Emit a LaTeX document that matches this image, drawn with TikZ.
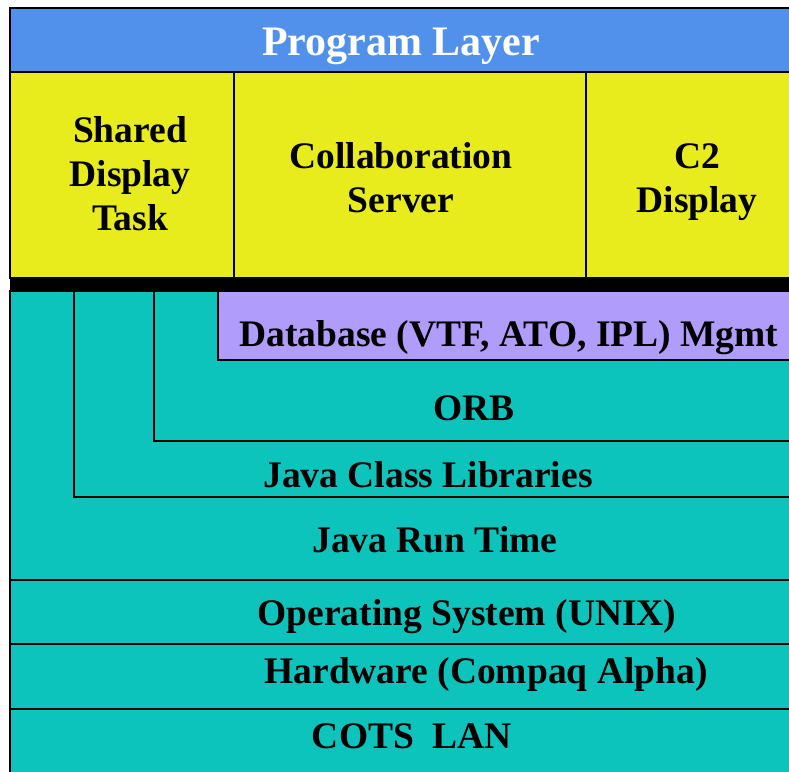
\documentclass[tikz,border=0pt]{standalone}
\usepackage{fontspec}
\setmainfont{Liberation Serif}
\definecolor{layerblue}{HTML}{5191EB}
\definecolor{appyellow}{HTML}{E8EB1C}
\definecolor{mwteal}{HTML}{0CC4BC}
\definecolor{dbpurple}{HTML}{B09CFA}
\tikzset{
  layer/.style={draw=black, line width=1.4pt},
  lbl/.style={font=\bfseries\fontsize{37.5}{44}\selectfont, align=center, inner sep=0pt},
  title/.style={font=\bfseries\fontsize{42}{48}\selectfont, text=white, inner sep=0pt}
}
\begin{document}
\begin{tikzpicture}[x=1pt,y=-1pt]
\useasboundingbox (0,0) rectangle (789,771);
% program layer banner
\path[layer, fill=layerblue] (10,8) rectangle (800,72);
% application tasks
\path[layer, fill=appyellow] (10,72) rectangle (800,278);
\draw[line width=1.2pt] (234,72) -- (234,278);
\draw[line width=1.2pt] (586,72) -- (586,278);
% separator bar
\fill[black] (10,278) rectangle (800,291);
% middleware and platform stack
\path[layer, fill=mwteal] (10,291) rectangle (800,790);
\draw[layer] (74,291) -- (74,497) -- (800,497);
\draw[layer] (154,291) -- (154,441) -- (800,441);
\path[layer, fill=dbpurple] (218,291) rectangle (800,360);
\draw[layer] (10,580) -- (800,580);
\draw[layer] (10,644) -- (800,644);
\draw[layer] (10,709) -- (800,709);
% labels
\node[title] (prog) at (401,46) {Program Layer};
\node[lbl] (sdt) at (130,174) {Shared\\Display\\Task};
\node[lbl] (collab) at (401,178) {Collaboration\\Server};
\node[lbl] (c2) at (697,182) {C2\\Display};
\node[lbl] (db) at (509,338) {Database (VTF, ATO, IPL) Mgmt};
\node[lbl] (orb) at (474,408) {ORB};
\node[lbl] (jcl) at (428,475) {Java Class Libraries};
\node[lbl] (jrt) at (435,540) {Java Run Time};
\node[lbl] (os) at (467,617) {Operating System (UNIX)};
\node[lbl] (hw) at (486,674) {Hardware (Compaq Alpha)};
\node[lbl] (lan) at (412,736) {COTS\ \ LAN};
\end{tikzpicture}
\end{document}
